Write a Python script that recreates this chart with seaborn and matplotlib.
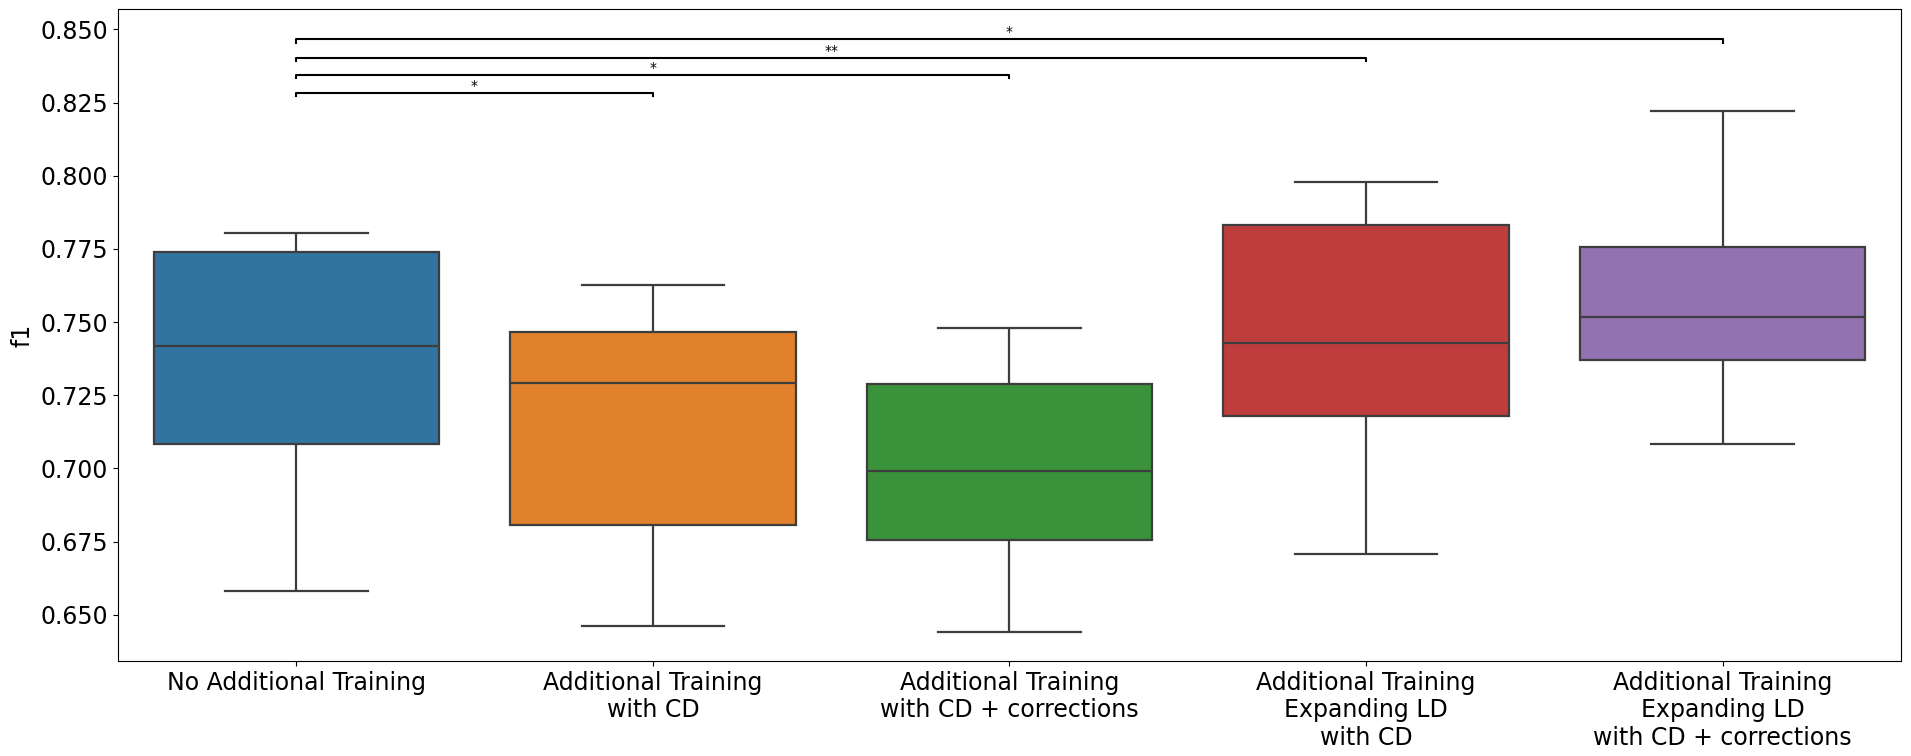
import numpy as np
import pandas as pd
import matplotlib
matplotlib.use("Agg")
import matplotlib.pyplot as plt
import seaborn as sns

# Category labels
categories = [
    "No Additional Training",
    "Additional Training\nwith CD",
    "Additional Training\nwith CD + corrections",
    "Additional Training\nExpanding LD\nwith CD",
    "Additional Training\nExpanding LD\nwith CD + corrections",
]

# Five-number summaries: [min, Q1, median, Q3, max]
no_additional = [0.6580, 0.7084, 0.7418, 0.7739, 0.7805]
with_cd = [0.6462, 0.6806, 0.7292, 0.7467, 0.7628]
with_cd_corr = [0.6441, 0.6755, 0.6991, 0.7289, 0.7480]
expand_cd = [0.6708, 0.7178, 0.7429, 0.7833, 0.7978]
expand_cd_corr = [0.7085, 0.7369, 0.7519, 0.7755, 0.8220]

series = [no_additional, with_cd, with_cd_corr, expand_cd, expand_cd_corr]

# Significance annotations: (group a, group b, label)
pair_a = [0, 0, 0, 0]
pair_b = [1, 2, 3, 4]
pair_labels = ["*", "*", "**", "*"]
pair_levels = [0.8284, 0.8345, 0.8404, 0.8466]

rows = []
for cat, vals in zip(categories, series):
    for v in vals:
        rows.append({"group": cat, "f1": v})
df = pd.DataFrame(rows)

fig, ax = plt.subplots(figsize=(19.11, 7.56), dpi=100)
sns.boxplot(data=df, x="group", y="f1", hue="group", order=categories,
            hue_order=categories, palette="tab10", legend=False,
            linewidth=1.6, linecolor=(0.24, 0.24, 0.24), ax=ax)

tick_h = 0.0011
for a, b, lab, lvl in zip(pair_a, pair_b, pair_labels, pair_levels):
    ax.plot([a, a, b, b], [lvl - tick_h, lvl, lvl, lvl - tick_h],
            color="black", lw=1.5, clip_on=False)
    ax.text((a + b) / 2, lvl, lab, ha="center", va="bottom", fontsize=10)

ax.set_ylim(0.6342, 0.8569)
ax.set_xlim(-0.5, 4.5)
ax.set_yticks(np.arange(0.650, 0.8501, 0.025))
ax.set_xlabel("")
ax.set_ylabel("f1", fontsize=17)
ax.tick_params(axis="both", labelsize=17)

fig.subplots_adjust(left=0.0617, right=0.9948, top=0.9877, bottom=0.1257)
fig.savefig("out.png", dpi=100)
